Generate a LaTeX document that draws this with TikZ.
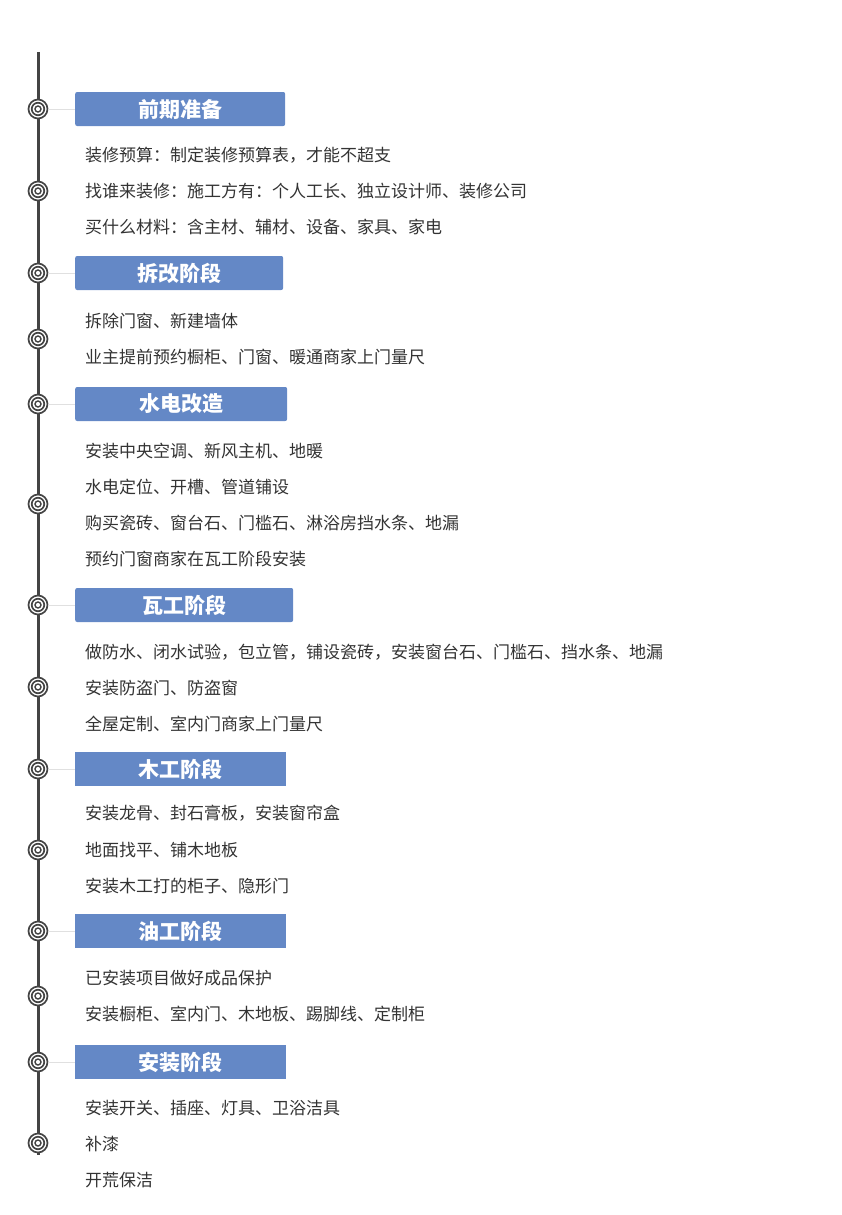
\documentclass[tikz,border=0pt]{standalone}
\usepackage{fontspec}
\setmainfont{Noto Sans CJK SC}
\usetikzlibrary{positioning}
\definecolor{headblue}{HTML}{6488C6}
\definecolor{linegray}{HTML}{444444}
\begin{document}
\begin{tikzpicture}[x=1pt,y=-1pt,
            head/.style={rectangle, fill=headblue, rounded corners=2pt, minimum height=34pt, anchor=west, font=\fontsize{21}{23}\selectfont\bfseries, text=white, inner sep=0pt},
            item/.style={anchor=west, font=\fontsize{17}{19}\selectfont, text=black!80, inner sep=0pt},
            stem/.style={line width=3pt, draw=linegray},
            ring/.style={circle, draw=linegray, line width=1.7pt, inner sep=0pt},
            tie/.style={draw=black!12, line width=0.8pt}
        ]
            \useasboundingbox (0,0) rectangle (842,1215);
            \coordinate (top) at (38,52);
            \coordinate (bottom) at (38,1155);
            \draw[stem] (top) -- (bottom);

            % markers on the timeline
            \foreach \y [count=\i] in {109,191,273,339,404,504,605,687,769,850,931,996,1062,1143} {
                \node[ring, fill=white, minimum size=19pt] (m\i) at (38,\y) {};
                \node[ring, minimum size=12.5pt] at (m\i) {};
                \node[ring, line width=1.4pt, minimum size=6pt] at (m\i) {};
            }

            % stage headers
            \node[head, minimum width=210pt] (h1) at (75,109) {前期准备};
            \node[head, minimum width=208pt] (h2) at (75,273) {拆改阶段};
            \node[head, minimum width=212pt] (h3) at (75,404) {水电改造};
            \node[head, minimum width=218pt] (h4) at (75,605) {瓦工阶段};
            \node[head, minimum width=211pt, rounded corners=0pt] (h5) at (75,769) {木工阶段};
            \node[head, minimum width=211pt, rounded corners=0pt] (h6) at (75,931) {油工阶段};
            \node[head, minimum width=211pt, rounded corners=0pt] (h7) at (75,1062) {安装阶段};
            \foreach \i/\j in {1/1,3/2,5/3,7/4,9/5,11/6,13/7}
                \draw[tie] (m\i) -- (h\j);

            % stage items
            \node[item] (t1) at (85,155) {装修预算：制定装修预算表，才能不超支};
            \node[item] (t2) at (85,191) {找谁来装修：施工方有：个人工长、独立设计师、装修公司};
            \node[item] (t3) at (85,227) {买什么材料：含主材、辅材、设备、家具、家电};
            \node[item] (t4) at (85,321) {拆除门窗、新建墙体};
            \node[item] (t5) at (85,357) {业主提前预约橱柜、门窗、暖通商家上门量尺};
            \node[item] (t6) at (85,451) {安装中央空调、新风主机、地暖};
            \node[item] (t7) at (85,487) {水电定位、开槽、管道铺设};
            \node[item] (t8) at (85,523) {购买瓷砖、窗台石、门槛石、淋浴房挡水条、地漏};
            \node[item] (t9) at (85,559) {预约门窗商家在瓦工阶段安装};
            \node[item] (t10) at (85,652) {做防水、闭水试验，包立管，铺设瓷砖，安装窗台石、门槛石、挡水条、地漏};
            \node[item] (t11) at (85,688) {安装防盗门、防盗窗};
            \node[item] (t12) at (85,724) {全屋定制、室内门商家上门量尺};
            \node[item] (t13) at (85,813) {安装龙骨、封石膏板，安装窗帘盒};
            \node[item] (t14) at (85,850) {地面找平、铺木地板};
            \node[item] (t15) at (85,886) {安装木工打的柜子、隐形门};
            \node[item] (t16) at (85,978) {已安装项目做好成品保护};
            \node[item] (t17) at (85,1014) {安装橱柜、室内门、木地板、踢脚线、定制柜};
            \node[item] (t18) at (85,1108) {安装开关、插座、灯具、卫浴洁具};
            \node[item] (t19) at (85,1144) {补漆};
            \node[item] (t20) at (85,1180) {开荒保洁};
        \end{tikzpicture}
\end{document}
